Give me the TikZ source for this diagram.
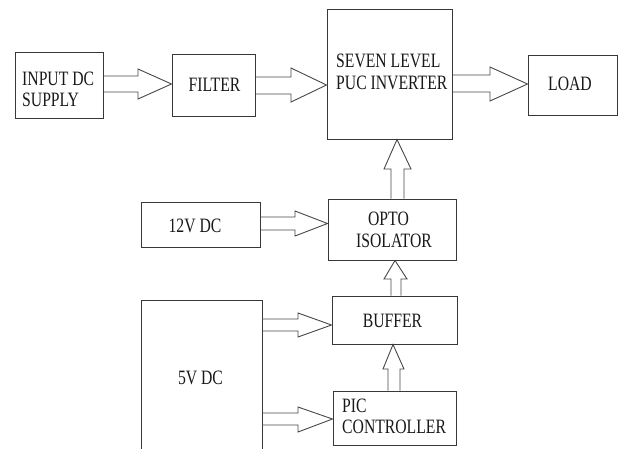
\documentclass[tikz,border=0pt]{standalone}
\usepackage{fontspec}
\setmainfont{Liberation Serif}
\usepackage{graphicx}
\newcommand{\st}[1]{\scalebox{1}[1.3]{#1}}
\begin{document}
\begin{tikzpicture}[x=1pt,y=-1pt,
  box/.style={draw=black!78,line width=1pt,inner sep=0pt,rectangle},
  txt/.style={inner sep=0pt,font=\fontsize{15.7}{17}\selectfont,text=black!90},
  arr/.style={draw=black!72,line width=0.9pt,line join=miter}]
\useasboundingbox[fill=white] (0,0) rectangle (624,448);
% boxes
\node[box,minimum width=88pt,minimum height=66pt] (in) at (59,85) {};
\node[box,minimum width=83pt,minimum height=62pt] (filter) at (213.5,85) {};
\node[box,minimum width=125pt,minimum height=130pt] (inv) at (389.5,74) {};
\node[box,minimum width=89pt,minimum height=60pt] (load) at (572.5,85) {};
\node[box,minimum width=119pt,minimum height=45pt] (v12) at (200.5,224.5) {};
\node[box,minimum width=128pt,minimum height=61pt] (opto) at (392,229.5) {};
\node[box,minimum width=125pt,minimum height=48pt] (buffer) at (394.5,320) {};
\node[box,minimum width=123pt,minimum height=54pt] (pic) at (394.5,418) {};
\node[inner sep=0pt,minimum width=120pt,minimum height=150pt] (v5) at (202,376) {};
\draw[draw=black!78,line width=1pt] (v5.south west) -- (v5.north west) -- (v5.north east) -- (v5.south east);
% texts
\node[txt,anchor=base west] (t1a) at (22,85) {\st{INPUT DC}};
\node[txt,anchor=base west] (t1b) at (22,106.7) {\st{SUPPLY}};
\node[txt,anchor=base] (t2) at (214.5,91) {\st{FILTER}};
\node[txt,anchor=base west] (t3a) at (336,67) {\st{SEVEN LEVEL}};
\node[txt,anchor=base west] (t3b) at (336,89) {\st{PUC INVERTER}};
\node[txt,anchor=base] (t4) at (570,90) {\st{LOAD}};
\node[txt,anchor=base] (t5) at (195,232) {\st{12V DC}};
\node[txt,anchor=base] (t6a) at (388.5,225) {\st{OPTO}};
\node[txt,anchor=base] (t6b) at (394,247) {\st{ISOLATOR}};
\node[txt,anchor=base] (t7) at (392.5,327) {\st{BUFFER}};
\node[txt,anchor=base] (t8) at (200.5,384) {\st{5V DC}};
\node[txt,anchor=base west] (t9a) at (342,412) {\st{PIC}};
\node[txt,anchor=base west] (t9b) at (342,433) {\st{CONTROLLER}};
% horizontal block arrows
\draw[arr] (in.east |- 0,76) -- (138,76) -- (138,69) -- (filter.west |- 0,84) -- (138,99) -- (138,92) -- (in.east |- 0,92);
\draw[arr] (filter.east |- 0,77) -- (291,77) -- (291,68) -- (inv.west |- 0,85) -- (291,102) -- (291,94) -- (filter.east |- 0,94);
\draw[arr] (inv.east |- 0,75) -- (490,75) -- (490,67) -- (load.west |- 0,84) -- (490,101) -- (490,92) -- (inv.east |- 0,92);
\draw[arr] (v12.east |- 0,217) -- (295,217) -- (295,211) -- (opto.west |- 0,223.5) -- (295,236) -- (295,230) -- (v12.east |- 0,230);
\draw[arr] (v5.east |- 0,319) -- (298,319) -- (298,313) -- (buffer.west |- 0,325) -- (298,337) -- (298,331) -- (v5.east |- 0,331);
\draw[arr] (v5.east |- 0,413) -- (298,413) -- (298,407) -- (pic.west |- 0,419) -- (298,432) -- (298,425) -- (v5.east |- 0,425);
% vertical block arrows
\draw[arr] (opto.north -| 391,0) -- (391,169) -- (384,169) -- (inv.south -| 397,0) -- (411,169) -- (404,169) -- (opto.north -| 404,0);
\draw[arr] (buffer.north -| 391,0) -- (391,279) -- (384,279) -- (opto.south -| 395,0) -- (407,279) -- (401,279) -- (buffer.north -| 401,0);
\draw[arr] (pic.north -| 388,0) -- (388,369) -- (383,369) -- (buffer.south -| 393,0) -- (404,369) -- (400,369) -- (pic.north -| 400,0);
\end{tikzpicture}
\end{document}
